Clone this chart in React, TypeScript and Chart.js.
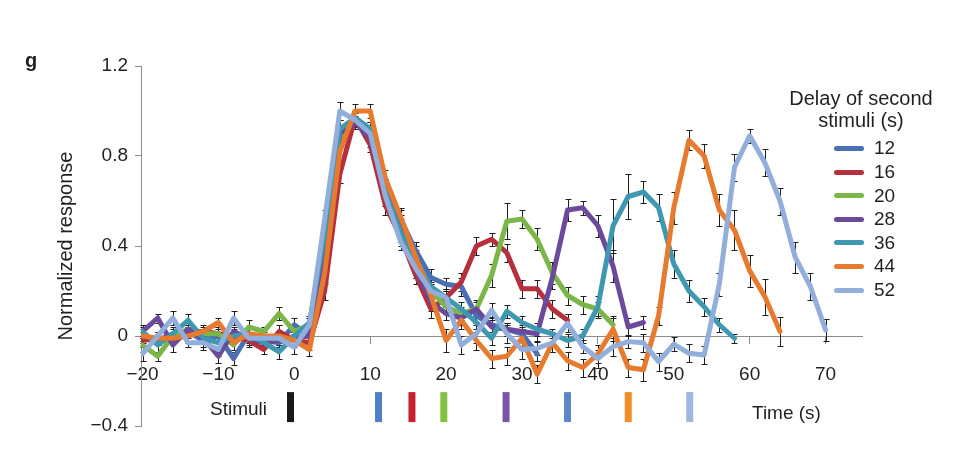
import { useEffect, useRef } from "react";
import { Chart, registerables } from "chart.js";
Chart.register(...registerables);

// time (s) of each sample, every 2 s
const times = [
  -20, -18, -16, -14, -12, -10, -8, -6, -4, -2, 0, 2, 4, 6, 8, 10, 12, 14, 16, 18, 20, 22,
  24, 26, 28, 30, 32, 34, 36, 38, 40, 42, 44, 46, 48, 50, 52, 54, 56, 58, 60, 62, 64, 66, 68, 70,
];

const delays = ["12", "16", "20", "28", "36", "44", "52"];
const colors = ["#4a6fb5", "#b5303c", "#7ab648", "#6b4a9b", "#3d98b0", "#e67a2e", "#92aedb"];

// normalized responses, one list per delay (start at -20 s)
const resp12 = [
  0.0, -0.02, 0.01, 0.02, -0.02, 0.0, -0.1, 0.01, -0.02, -0.03, 0.05, 0.0,
  0.42, 0.9, 0.97, 0.92, 0.66, 0.52, 0.38, 0.26, 0.23, 0.22, 0.09, 0.05, 0.03, 0.01, -0.08,
];
const resp16 = [
  -0.02, -0.01, -0.01, 0.02, 0.02, 0.01, 0.0, -0.02, -0.06, 0.02, -0.02, -0.03,
  0.2, 0.72, 0.97, 0.85, 0.58, 0.44, 0.27, 0.12, 0.17, 0.24, 0.4, 0.43, 0.37, 0.21, 0.21, 0.12, 0.07,
];
const resp20 = [
  -0.04, -0.09, 0.0, 0.03, 0.01, 0.01, -0.04, 0.04, 0.02, 0.1, 0.02, 0.05,
  0.4, 0.88, 0.96, 0.92, 0.66, 0.5, 0.32, 0.2, 0.13, 0.1, 0.12, 0.27, 0.51, 0.52, 0.43, 0.28, 0.18, 0.14, 0.12, 0.05,
];
const resp28 = [
  0.02, 0.08, -0.04, 0.03, -0.01, -0.09, 0.02, -0.01, -0.03, -0.02, -0.01, 0.0,
  0.38, 0.9, 0.95, 0.88, 0.64, 0.48, 0.3, 0.15, 0.1, 0.08, 0.12, 0.04, 0.03, 0.02, 0.01, 0.26,
  0.56, 0.57, 0.49, 0.31, 0.04, 0.06,
];
const resp36 = [
  0.02, -0.04, 0.01, 0.07, -0.01, -0.03, 0.0, 0.01, -0.03, -0.07, 0.0, 0.06,
  0.45, 0.92, 0.97, 0.92, 0.64, 0.46, 0.34, 0.22, 0.17, 0.12, 0.06, -0.01, 0.11, 0.06, 0.03, 0.01,
  -0.02, 0.0, 0.13, 0.49, 0.62, 0.64, 0.57, 0.32, 0.2, 0.13, 0.05, -0.01,
];
const resp44 = [
  0.0, -0.01, -0.01, 0.0, 0.02, 0.06, -0.03, 0.01, 0.0, 0.0, -0.02, -0.06,
  0.28, 0.82, 1.0, 1.0, 0.7, 0.53, 0.35, 0.18, -0.02, 0.07, -0.02, -0.1, -0.09, -0.01, -0.17, -0.03,
  -0.11, -0.14, -0.08, 0.03, -0.14, -0.15, 0.09, 0.57, 0.87, 0.8, 0.56, 0.47, 0.29, 0.175, 0.02,
];
const resp52 = [
  -0.08, 0.0, 0.08, -0.03, -0.03, -0.06, 0.08, -0.01, -0.01, -0.01, -0.05, 0.05,
  0.52, 1.0, 0.96, 0.9, 0.62, 0.42, 0.3, 0.2, 0.17, -0.04, 0.01, 0.115, 0.01, -0.06, -0.055, -0.03,
  0.056, -0.047, -0.1, -0.047, -0.025, -0.03, -0.114, -0.036, -0.077, -0.084, 0.23, 0.75, 0.89, 0.77,
  0.6, 0.35, 0.22, 0.027,
];

// error bar half-heights
const err12 = [
  0.03, 0.02, 0.03, 0.02, 0.03, 0.02, 0.03, 0.02, 0.03, 0.02, 0.03, 0.03,
  0.04, 0.03, 0.03, 0.03, 0.04, 0.04, 0.04, 0.04, 0.03, 0.04, 0.03, 0.03, 0.03, 0.02, 0.03,
];
const err16 = [
  0.02, 0.03, 0.02, 0.02, 0.03, 0.02, 0.02, 0.03, 0.02, 0.03, 0.02, 0.03,
  0.04, 0.04, 0.03, 0.03, 0.04, 0.04, 0.04, 0.04, 0.04, 0.04, 0.04, 0.03, 0.04, 0.04, 0.04, 0.04, 0.03,
];
const err20 = [
  0.03, 0.02, 0.02, 0.03, 0.02, 0.03, 0.02, 0.03, 0.02, 0.03, 0.02, 0.03,
  0.03, 0.04, 0.03, 0.03, 0.04, 0.04, 0.04, 0.03, 0.03, 0.03, 0.04, 0.05, 0.08, 0.04, 0.05, 0.05, 0.04, 0.04, 0.03, 0.04,
];
const err28 = [
  0.02, 0.02, 0.03, 0.02, 0.02, 0.03, 0.02, 0.03, 0.02, 0.02, 0.03, 0.02,
  0.04, 0.03, 0.03, 0.04, 0.04, 0.04, 0.04, 0.04, 0.03, 0.03, 0.03, 0.03, 0.03, 0.03, 0.03, 0.05,
  0.05, 0.03, 0.05, 0.07, 0.04, 0.03,
];
const err36 = [
  0.03, 0.03, 0.02, 0.03, 0.02, 0.02, 0.03, 0.02, 0.02, 0.03, 0.02, 0.03,
  0.05, 0.04, 0.03, 0.03, 0.04, 0.04, 0.04, 0.03, 0.03, 0.03, 0.03, 0.03, 0.03, 0.03, 0.03, 0.02,
  0.03, 0.03, 0.05, 0.12, 0.1, 0.05, 0.06, 0.06, 0.05, 0.04, 0.03, 0.02,
];
const err44 = [
  0.02, 0.02, 0.02, 0.03, 0.02, 0.02, 0.03, 0.02, 0.02, 0.02, 0.03, 0.03,
  0.05, 0.04, 0.03, 0.03, 0.04, 0.04, 0.05, 0.05, 0.05, 0.04, 0.04, 0.04, 0.04, 0.05, 0.04, 0.04,
  0.04, 0.04, 0.04, 0.05, 0.04, 0.05, 0.04, 0.07, 0.045, 0.055, 0.07, 0.09, 0.07, 0.08, 0.065,
];
const err52 = [
  0.03, 0.02, 0.03, 0.02, 0.03, 0.03, 0.03, 0.02, 0.02, 0.02, 0.03, 0.03,
  0.04, 0.04, 0.03, 0.03, 0.04, 0.04, 0.04, 0.04, 0.04, 0.04, 0.04, 0.03, 0.04, 0.04, 0.03, 0.04,
  0.04, 0.03, 0.04, 0.04, 0.03, 0.04, 0.04, 0.03, 0.04, 0.04, 0.05, 0.06, 0.03, 0.06, 0.06, 0.07,
  0.06, 0.05,
];

const responses = [resp12, resp16, resp20, resp28, resp36, resp44, resp52];
const errors = [err12, err16, err20, err28, err36, err44, err52];

// stimulus marks under the axis
const stimulusTimes = [-0.5, 11.1, 15.5, 19.7, 27.9, 36, 44, 52.1];
const stimulusColors = ["#1a1a1a", "#4f7fc8", "#c8202f", "#80c341", "#7a55a8", "#5b87c9", "#f28c28", "#9fb8e0"];

const TEXT = "#231f20";
const AXIS = "#8c8c8c";
const FONT = "'Liberation Sans', Arial, Helvetica, sans-serif";

const fmt = (v: number) => {
  const r = Math.round(v * 10) / 10;
  return r === 0 ? "0" : String(r).replace("-", "\u2212");
};

const errorBars = {
  id: "errorBars",
  beforeDatasetsDraw(chart: any) {
    const { ctx } = chart;
    const xs = chart.scales.x;
    const ys = chart.scales.y;
    ctx.save();
    ctx.strokeStyle = "#1e1e1e";
    ctx.lineWidth = 1;
    chart.data.datasets.forEach((ds: any) => {
      if (!ds.errs) return;
      ds.data.forEach((p: any, j: number) => {
        const e = ds.errs[j];
        if (e == null) return;
        const px = Math.round(xs.getPixelForValue(p.x)) + 0.5;
        const top = Math.round(ys.getPixelForValue(p.y + e)) + 0.5;
        const bot = Math.round(ys.getPixelForValue(p.y - e)) + 0.5;
        ctx.beginPath();
        ctx.moveTo(px, top);
        ctx.lineTo(px, bot);
        ctx.moveTo(px - 3, top);
        ctx.lineTo(px + 3, top);
        ctx.moveTo(px - 3, bot);
        ctx.lineTo(px + 3, bot);
        ctx.stroke();
      });
    });
    ctx.restore();
  },
};

function ResponseChart() {
  const chartRef = useRef<HTMLCanvasElement>(null);
  const chartInstance = useRef<Chart | null>(null);

  useEffect(() => {
    if (!chartRef.current) return;
    if (chartInstance.current) chartInstance.current.destroy();

    Chart.defaults.font.family = FONT;
    Chart.defaults.color = TEXT;

    const series = responses.map((vals, i) => ({
      label: delays[i],
      data: vals.map((v, j) => ({ x: times[j], y: v })),
      borderColor: colors[i],
      backgroundColor: colors[i],
      borderWidth: 5,
      borderJoinStyle: "round",
      borderCapStyle: "round",
      pointRadius: 0,
      tension: 0,
      order: 10 - i,
      errs: errors[i],
    }));

    const stimuli = {
      label: "Stimuli",
      data: stimulusTimes.map((t) => ({ x: t, y: -0.316 })),
      showLine: false,
      pointStyle: "line",
      pointRotation: 90,
      pointRadius: 15,
      pointBorderWidth: 7,
      pointBorderColor: stimulusColors,
      pointBackgroundColor: stimulusColors,
      order: 0,
    };

    chartInstance.current = new Chart(chartRef.current, {
      type: "line",
      data: { datasets: [...series, stimuli] as any },
      options: {
        animation: false,
        responsive: true,
        maintainAspectRatio: false,
        layout: { padding: { top: 66, right: 99, bottom: 29, left: 0 } },
        plugins: { legend: { display: false }, tooltip: { enabled: false } },
        scales: {
          x: {
            type: "linear",
            min: -20.2,
            max: 74.8,
            position: { y: 0 } as any,
            ticks: {
              stepSize: 10,
              includeBounds: false,
              padding: 20,
              color: TEXT,
              font: { size: 19 },
              callback: (v: any) => fmt(Number(v)),
            },
            grid: { drawOnChartArea: false, drawTicks: true, tickLength: 7, color: AXIS },
            border: { display: true, color: AXIS, width: 1 },
          },
          y: {
            min: -0.4,
            max: 1.2,
            ticks: {
              stepSize: 0.4,
              padding: 7,
              color: TEXT,
              font: { size: 19 },
              callback: (v: any) => fmt(Number(v)),
            },
            grid: { drawOnChartArea: false, drawTicks: true, tickLength: 6, color: AXIS },
            border: { display: true, color: AXIS, width: 1 },
            title: {
              display: true,
              text: "Normalized response",
              color: TEXT,
              font: { size: 20 },
              padding: { top: 54, bottom: 0 },
            },
            afterFit: (s: any) => {
              s.width = 141;
            },
          },
        },
      },
      plugins: [errorBars],
    });

    return () => {
      chartInstance.current?.destroy();
      chartInstance.current = null;
    };
  }, []);

  return <canvas ref={chartRef}></canvas>;
}

export default function App() {
  const text = { position: "absolute" as const, color: TEXT, fontFamily: FONT, whiteSpace: "nowrap" as const };
  return (
    <div style={{ position: "fixed", left: 0, top: 0, width: 961, height: 455, background: "#fff" }}>
      <div style={{ position: "absolute", left: 0, top: 0, width: 961, height: 455 }}>
        <ResponseChart />
      </div>
      <div style={{ ...text, left: 25, top: 50, fontSize: 20, lineHeight: "20px", fontWeight: "bold" }}>g</div>
      <div style={{ ...text, left: 210, top: 399, fontSize: 19, lineHeight: "19px" }}>Stimuli</div>
      <div style={{ ...text, left: 752, top: 403, fontSize: 19, lineHeight: "19px" }}>Time (s)</div>
      <div style={{ ...text, left: 781, top: 87, width: 160, textAlign: "center", fontSize: 20, lineHeight: "22px" }}>
        Delay of second
        <br />
        stimuli (s)
      </div>
      {delays.map((d, i) => (
        <div
          key={d}
          style={{
            ...text,
            left: 834,
            top: 136.7 + 23.6 * i,
            height: 23.6,
            display: "flex",
            alignItems: "center",
            fontSize: 19,
          }}
        >
          <span style={{ display: "inline-block", width: 30, height: 5, borderRadius: 3, background: colors[i], marginRight: 10 }} />
          <span>{d}</span>
        </div>
      ))}
    </div>
  );
}
